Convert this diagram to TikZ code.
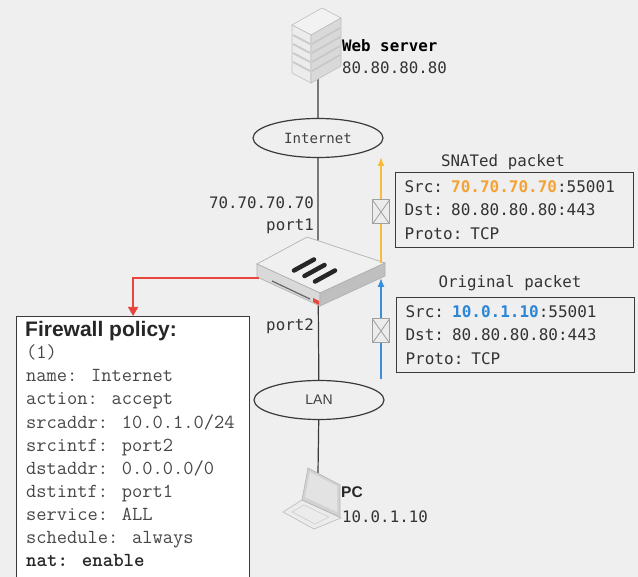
\documentclass[tikz,border=0pt]{standalone}
\usepackage{fontspec}
\usepackage{xcolor}
\usepackage{tikz}
\usetikzlibrary{arrows.meta, shapes.geometric}

\setmainfont{Liberation Sans}
\newfontfamily\netfont{DejaVu Sans Mono}

\definecolor{bgcol}{HTML}{EFEFEF}
\definecolor{edgecol}{HTML}{3A3A3A}
\definecolor{snatcol}{HTML}{F8BC3C}
\definecolor{snattext}{HTML}{F4A236}
\definecolor{origcol}{HTML}{3A8FDA}
\definecolor{origtext}{HTML}{2A86D6}
\definecolor{policyred}{HTML}{E8453C}

\tikzset{
	wire/.style={draw=edgecol, line width=1.2pt},
	cloud/.style={ellipse, draw=edgecol, line width=1.2pt, fill=bgcol, inner sep=0pt,
		minimum width=130, minimum height=39, text=black!75},
	netlabel/.style={font=\netfont\fontsize{15.8}{18}\selectfont, text=black!80, inner sep=0pt},
	pktbox/.style={draw=edgecol, line width=1.2pt, text width=220, inner xsep=9, inner ysep=0,
		minimum height=75, align=left, text=black!80,
		font=\netfont\fontsize{16}{23.5}\selectfont},
	envelope/.style={draw=gray!75, fill=white!85!gray, line width=1pt, inner sep=0pt,
		minimum width=17, minimum height=24,
		path picture={\draw[gray!75, line width=0.8pt]
			(path picture bounding box.north west) -- (path picture bounding box.south east)
			(path picture bounding box.north east) -- (path picture bounding box.south west);}},
	snatarrow/.style={draw=snatcol, line width=1.3pt, -{Latex[length=9, width=7]}},
	origarrow/.style={draw=origcol, line width=1.3pt, -{Latex[length=9, width=7]}},
	policyarrow/.style={draw=policyred, line width=1.3pt, -{Triangle[length=9, width=10]}},
	policybox/.style={draw=edgecol, fill=white, line width=1.2pt, inner sep=0pt},
	ruleline/.style={anchor=base west, inner sep=0pt, text=black!72,
		font=\ttfamily\fontsize{19.9}{22}\selectfont}
}

\begin{document}
\begin{tikzpicture}[x=1pt, y=-1pt]
	\useasboundingbox (0,0) rectangle (638,577);
	\fill[bgcol] (0,0) rectangle (638,577);

	\coordinate (server) at (318,79);
	\coordinate (fw) at (318,270);
	\coordinate (pc) at (318,473);
	\node[cloud, font=\netfont\fontsize{14.1}{16}\selectfont] (inet) at (318,138) {Internet};
	\node[cloud, font=\fontsize{14}{16}\selectfont] (lan) at (319,400) {LAN};

	\draw[wire] (server) -- (inet) -- (fw) -- (lan) -- (pc);

	\filldraw[fill=gray!10, draw=gray!50, line width=0.6pt] (292,25) -- (322,8) -- (341,18) -- (311,35) -- cycle;
	\filldraw[fill=gray!15, draw=gray!50, line width=0.6pt] (292,25) -- (311,35) -- (311,83) -- (292,73) -- cycle;
	\filldraw[fill=gray!30, draw=gray!50, line width=0.6pt] (311,35) -- (341,18) -- (341,66) -- (311,83) -- cycle;
	\foreach \k in {1,...,4}{
		\draw[gray!40, line width=2pt] (293,26+9*\k) -- (310,35+9*\k);
		\draw[gray!45, line width=1.5pt] (312,35+9*\k) -- (340,19+9*\k);
	}

	\filldraw[fill=gray!12, draw=gray!60, line width=0.7pt] (257,264) -- (307,237) -- (385,263) -- (320,293) -- cycle;
	\filldraw[fill=gray!30, draw=gray!60, line width=0.7pt] (257,264) -- (320,293) -- (320,306) -- (257,277) -- cycle;
	\filldraw[fill=gray!50, draw=gray!60, line width=0.7pt] (320,293) -- (385,263) -- (385,276) -- (320,306) -- cycle;
	\draw[black!60, line width=1.2pt] (272,281) -- (310,299);
	\fill[policyred] (313,298) -- (319,301) -- (319,305) -- (313,302) -- cycle;
	\foreach \cx/\cy in {304/265, 314.5/270.5, 325/276}
		\draw[black!85, line width=4.5pt, line cap=round] (\cx-10,\cy+5.5) -- (\cx+10,\cy-5.5);

	\filldraw[fill=gray!15, draw=gray!50, line width=0.7pt] (283,512) -- (302,500) -- (341,518) -- (314,529) -- cycle;
	\draw[gray!40, line width=0.6pt] (292,512) -- (304,505) -- (329,517) -- (315,524) -- cycle;
	\filldraw[fill=gray!35, draw=gray!55, line width=0.7pt] (302,500) -- (308,468) -- (340,485) -- (340,517) -- cycle;
	\fill[gray!22] (305,497) -- (310,472) -- (337,486) -- (337,512) -- cycle;

	\foreach \x/\y/\side/\txt [count=\n] in {
		342/74/base west/80.80.80.80,
		314/209/base east/70.70.70.70,
		314/231/base east/port1,
		314/331/base east/port2,
		342/522/base west/10.0.1.10
	}{
		\node[netlabel, anchor=\side] (lbl\n) at (\x,\y) {\txt};
	}
	\node[netlabel, anchor=base west, font=\netfont\bfseries\fontsize{15.8}{18}\selectfont, text=black] (srvname) at (342,51.5) {Web server};
	\node[anchor=base west, inner sep=0pt, font=\bfseries\fontsize{15.5}{18}\selectfont, text=black!85] (pcname) at (341,498) {PC};

	\coordinate (snatfrom) at (381,263);
	\coordinate (snatto) at (381,157);
	\coordinate (origfrom) at (381,379);
	\coordinate (origto) at (381,278);
	\draw[snatarrow] (snatfrom) -- (snatto);
	\draw[origarrow] (origfrom) -- (origto);
	\node[envelope] (env1) at (381,212) {};
	\node[envelope] (env2) at (381,331) {};

	\node[pktbox, anchor=north west] (snat) at (395,172) {Src: {\bfseries\color{snattext}70.70.70.70}:55001\\Dst: 80.80.80.80:443\\Proto: TCP};
	\node[pktbox, anchor=north west] (orig) at (396,297) {Src: {\bfseries\color{origtext}10.0.1.10}:55001\\Dst: 80.80.80.80:443\\Proto: TCP};
	\node[netlabel, anchor=base] (snatlbl) at (503,167) {SNATed packet};
	\node[netlabel, anchor=base] (origlbl) at (510,288) {Original packet};

	\node[policybox, anchor=north west, minimum width=233, minimum height=270] (policy) at (16,316) {};
	\coordinate (fwport) at (259,278);
	\draw[policyarrow] (fwport) -| (policy.north);

	\node[anchor=base west, inner sep=0pt, font=\bfseries\fontsize{21}{24}\selectfont, text=black!85] (policytitle) at (25,337) {Firewall policy:};
	\foreach \txt [count=\n] in {
		{(1)},
		{name: Internet},
		{action: accept},
		{srcaddr: 10.0.1.0/24},
		{srcintf: port2},
		{dstaddr: 0.0.0.0/0},
		{dstintf: port1},
		{service: ALL},
		{schedule: always}
	}{
		\node[ruleline] (rule\n) at (26,335.7+23.1*\n) {\txt};
	}
	\node[ruleline, font=\ttfamily\bfseries\fontsize{19.9}{22}\selectfont, text=black!85] (rule10) at (26,566.7) {nat: enable};
\end{tikzpicture}
\end{document}
